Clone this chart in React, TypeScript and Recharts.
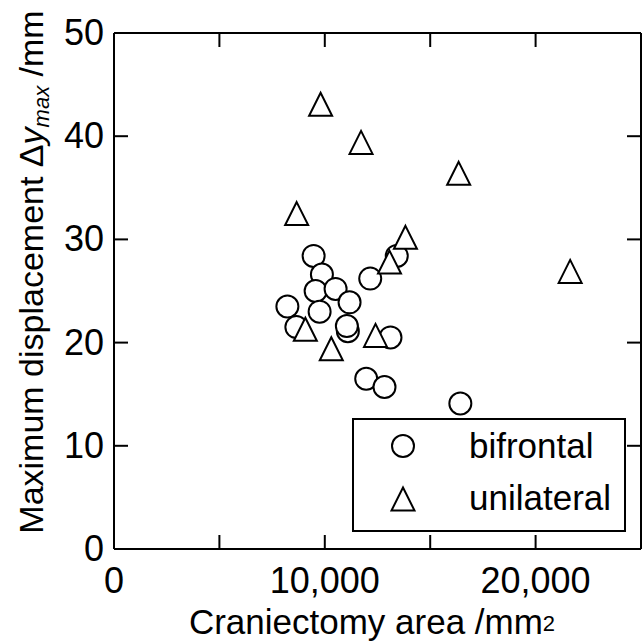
import React from 'react';
import { ScatterChart, Scatter, XAxis, YAxis, Legend } from 'recharts';

const FONT = '"Liberation Sans", Arial, Helvetica, sans-serif';

// Craniectomy area (mm^2) and maximum displacement (mm)
const bifrontalArea = [9470, 9863, 9565, 10512, 11175, 8225, 9754, 8651, 11094, 11047, 12155, 13414, 13116, 11965, 12832, 16430];
const bifrontalDisp = [28.4, 26.6, 25.0, 25.2, 23.9, 23.5, 23.0, 21.5, 21.1, 21.6, 26.2, 28.4, 20.5, 16.5, 15.7, 14.1];

const unilateralArea = [8665, 13826, 13069, 9077, 10308, 12406, 16350, 21639, 9801, 11719];
const unilateralDisp = [32.5, 30.2, 27.8, 21.3, 19.4, 20.7, 36.4, 26.9, 43.1, 39.4];

const xTicks = [0, 5000, 10000, 15000, 20000, 25000];
const xLabelTicks = [0, 10000, 20000];
const yTicks = [0, 10, 20, 30, 40, 50];

const seriesNames = ['bifrontal', 'unilateral'];

const bifrontalData = bifrontalArea.map((x, i) => ({ x, y: bifrontalDisp[i] }));
const unilateralData = unilateralArea.map((x, i) => ({ x, y: unilateralDisp[i] }));

const TICK = 14;
const FS = 35;
const TICK_FS = 36;

const fmt = (v: number) => v.toLocaleString('en-US');

const CircleMark = (props: any) => (
  <circle cx={props.cx} cy={props.cy} r={11} fill="#fff" stroke="#000" strokeWidth={2} />
);

const triPath = (cx: number, cy: number, h: number) =>
  `M${cx},${cy - h}L${cx + h},${cy + h}L${cx - h},${cy + h}Z`;

const TriangleMark = (props: any) => (
  <path d={triPath(props.cx, props.cy, 11.5)} fill="#fff" stroke="#000" strokeWidth={2} strokeLinejoin="miter" />
);

const BottomTick = (props: any) => {
  const { x, y, payload } = props;
  const v = payload.value;
  const edge = v === xTicks[0] || v === xTicks[xTicks.length - 1];
  return (
    <g>
      {!edge && <line x1={x} y1={y} x2={x} y2={y - TICK} stroke="#000" strokeWidth={2} />}
      {xLabelTicks.includes(v) && (
        <text x={x} y={y + 44} textAnchor="middle" fontSize={TICK_FS} fontFamily={FONT} fill="#000">
          {fmt(v)}
        </text>
      )}
    </g>
  );
};

const TopTick = (props: any) => {
  const { x, y, payload } = props;
  const v = payload.value;
  const edge = v === xTicks[0] || v === xTicks[xTicks.length - 1];
  return <g>{!edge && <line x1={x} y1={y} x2={x} y2={y + TICK} stroke="#000" strokeWidth={2} />}</g>;
};

const LeftTick = (props: any) => {
  const { x, y, payload } = props;
  const v = payload.value;
  const edge = v === yTicks[0] || v === yTicks[yTicks.length - 1];
  return (
    <g>
      {!edge && <line x1={x} y1={y} x2={x + TICK} y2={y} stroke="#000" strokeWidth={2} />}
      <text x={x - 10} y={y + 12} textAnchor="end" fontSize={TICK_FS} fontFamily={FONT} fill="#000">
        {v}
      </text>
    </g>
  );
};

const RightTick = (props: any) => {
  const { x, y, payload } = props;
  const v = payload.value;
  const edge = v === yTicks[0] || v === yTicks[yTicks.length - 1];
  return <g>{!edge && <line x1={x} y1={y} x2={x - TICK} y2={y} stroke="#000" strokeWidth={2} />}</g>;
};

const LegendBox = () => (
  <svg width={274} height={114} style={{ display: 'block' }}>
    <rect x={1} y={1} width={272} height={112} fill="#fff" stroke="#000" strokeWidth={2} />
    <circle cx={51} cy={28} r={11} fill="#fff" stroke="#000" strokeWidth={2} />
    <text x={117} y={40} fontSize={FS} fontFamily={FONT} fill="#000">{seriesNames[0]}</text>
    <path d={triPath(51, 81, 11.5)} fill="#fff" stroke="#000" strokeWidth={2} />
    <text x={117} y={92} fontSize={FS} fontFamily={FONT} fill="#000">{seriesNames[1]}</text>
  </svg>
);

const axisLine = { stroke: '#000', strokeWidth: 2 };

export default function App() {
  return (
    <div style={{ position: 'absolute', left: 0, top: 0, width: 642, height: 642, background: '#fff', overflow: 'hidden' }}>
      <ScatterChart width={642} height={642} margin={{ top: 32, right: 0, bottom: 92, left: 113 }}>
        <XAxis
          xAxisId="b"
          type="number"
          dataKey="x"
          orientation="bottom"
          domain={[0, 25000]}
          ticks={xTicks}
          interval={0}
          height={1}
          tickSize={0}
          tickMargin={0}
          tickLine={false}
          axisLine={axisLine}
          tick={(p: any) => <BottomTick {...p} />}
          allowDataOverflow
        />
        <XAxis
          xAxisId="t"
          type="number"
          dataKey="x"
          orientation="top"
          domain={[0, 25000]}
          ticks={xTicks}
          interval={0}
          height={1}
          tickSize={0}
          tickMargin={0}
          tickLine={false}
          axisLine={axisLine}
          tick={(p: any) => <TopTick {...p} />}
          allowDataOverflow
        />
        <YAxis
          yAxisId="l"
          type="number"
          dataKey="y"
          orientation="left"
          domain={[0, 50]}
          ticks={yTicks}
          interval={0}
          width={1}
          tickSize={0}
          tickMargin={0}
          tickLine={false}
          axisLine={axisLine}
          tick={(p: any) => <LeftTick {...p} />}
          allowDataOverflow
        />
        <YAxis
          yAxisId="r"
          type="number"
          dataKey="y"
          orientation="right"
          domain={[0, 50]}
          ticks={yTicks}
          interval={0}
          width={1}
          tickSize={0}
          tickMargin={0}
          tickLine={false}
          axisLine={axisLine}
          tick={(p: any) => <RightTick {...p} />}
          allowDataOverflow
        />
        <Scatter
          name={seriesNames[0]}
          data={bifrontalData}
          xAxisId="b"
          yAxisId="l"
          shape={(p: any) => <CircleMark {...p} />}
          isAnimationActive={false}
        />
        <Scatter
          name={seriesNames[1]}
          data={unilateralData}
          xAxisId="b"
          yAxisId="l"
          shape={(p: any) => <TriangleMark {...p} />}
          isAnimationActive={false}
        />
        <Legend
          layout="vertical"
          align="center"
          verticalAlign="middle"
          wrapperStyle={{ left: 352, top: 418, width: 274, height: 114 }}
          content={() => <LegendBox />}
        />
      </ScatterChart>
      <svg width={642} height={642} style={{ position: 'absolute', left: 0, top: 0, pointerEvents: 'none' }}>
        <text x={372} y={634} textAnchor="middle" fontSize={FS} fontFamily={FONT} fill="#000">
          Craniectomy area /mm
          <tspan fontSize={22} dy={-3}>2</tspan>
        </text>
        <text
          transform="translate(43,272) rotate(-90)"
          textAnchor="middle"
          fontSize={34}
          fontFamily={FONT}
          fill="#000"
        >
          Maximum displacement Δ<tspan fontStyle="italic">y</tspan>
          <tspan fontStyle="italic" fontSize={22} dy={6}>max</tspan>
          <tspan dy={-6}> /mm</tspan>
        </text>
      </svg>
    </div>
  );
}
